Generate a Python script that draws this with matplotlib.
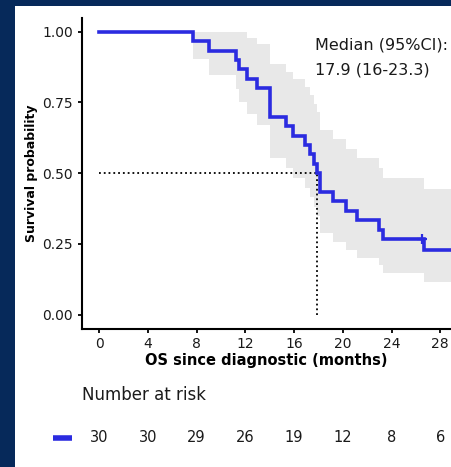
import matplotlib
matplotlib.use("Agg")
import matplotlib.pyplot as plt
from matplotlib.patches import Rectangle
from matplotlib.lines import Line2D
from matplotlib import transforms

# Kaplan-Meier estimate (step times in months) with 95% confidence band
times = [0, 7.7, 9.0, 11.2, 11.5, 12.1, 13.0, 14.0, 15.3, 15.9, 16.9, 17.3,
         17.6, 17.9, 18.1, 19.2, 20.3, 21.2, 23.0, 23.3, 26.7, 30.0]
surv = [1.0, 0.967, 0.933, 0.900, 0.867, 0.833, 0.800, 0.700, 0.667, 0.633,
        0.600, 0.567, 0.533, 0.500, 0.433, 0.400, 0.367, 0.333, 0.300, 0.267,
        0.229, 0.229]
upper = [1.0, 1.0, 1.0, 1.0, 0.997, 0.978, 0.957, 0.885, 0.859, 0.832,
         0.804, 0.775, 0.745, 0.715, 0.652, 0.620, 0.587, 0.553, 0.518, 0.483,
         0.445, 0.445]
lower = [1.0, 0.904, 0.848, 0.799, 0.753, 0.710, 0.669, 0.554, 0.518, 0.482,
         0.448, 0.414, 0.382, 0.350, 0.288, 0.258, 0.229, 0.201, 0.174, 0.147,
         0.117, 0.117]

# censored observations
censor_times = [26.5]
censor_surv = [0.267]

# median survival and its 95% CI
median_time = 17.9
median_ci = (16, 23.3)

# number-at-risk table
risk_times = [0, 4, 8, 12, 16, 20, 24, 28]
at_risk = [30, 30, 29, 26, 19, 12, 8, 6]

x_ticks = [0, 4, 8, 12, 16, 20, 24, 28]
y_ticks = [0.00, 0.25, 0.50, 0.75, 1.00]

line_color = "#2b2be0"
band_color = "#e8e8e8"
navy = "#06295a"
text_color = "#1a1a1a"

plt.rcParams["font.family"] = ["DejaVu Sans"]

W, H = 451, 467
fig = plt.figure(figsize=(W / 100, H / 100), dpi=100, facecolor=navy)

# white panel inside the navy frame
fig.patches.append(Rectangle((15 / W, 0), 1 - 15 / W, 1 - 6 / H,
                             transform=fig.transFigure, facecolor="white",
                             edgecolor="none", zorder=-10))

ax = fig.add_axes([81.5 / W, 1 - 328.8 / H, 1 - 81.5 / W, 311.3 / H])
ax.set_zorder(1)
ax.set_facecolor("none")

ax.fill_between(times, lower, upper, step="post", color=band_color,
                linewidth=0, zorder=1)
ax.step(times, surv, where="post", color=line_color, linewidth=2.6,
        solid_joinstyle="miter", zorder=3)
ax.plot(censor_times, censor_surv, linestyle="none", marker="+",
        markersize=7, markeredgewidth=1.6, color=line_color, zorder=4)

# median survival guides
ax.plot([0, median_time], [0.5, 0.5], color="black", linestyle=":",
        linewidth=1.3, zorder=2)
ax.plot([median_time, median_time], [0, 0.5], color="black", linestyle=":",
        linewidth=1.3, zorder=2)

ax.text(17.73, 0.936, "Median (95%CI):", fontsize=11.5, color=text_color,
        ha="left", va="baseline", zorder=5)
ax.text(17.73, 0.848,
        f"{median_time} ({median_ci[0]}-{median_ci[1]})",
        fontsize=11.5, color=text_color, ha="left", va="baseline", zorder=5)

ax.set_xlim(-1.44, 28.88)
ax.set_ylim(-0.05, 1.05)
ax.set_xticks(x_ticks)
ax.set_xticklabels([str(v) for v in x_ticks])
ax.set_yticks(y_ticks)
ax.set_yticklabels([f"{v:.2f}" for v in y_ticks])

for side in ("top", "right"):
    ax.spines[side].set_visible(False)
for side in ("left", "bottom"):
    ax.spines[side].set_linewidth(1.5)
    ax.spines[side].set_color("black")

ax.tick_params(axis="both", length=3, width=1.3, color="black",
               labelsize=10, labelcolor=text_color, pad=3)

ax.set_xlabel("OS since diagnostic (months)", fontsize=10.5,
              fontweight="bold", color="black", labelpad=1.5)
ax.set_ylabel("Survival probability", fontsize=9, fontweight="bold",
              color="black", labelpad=3)

# number at risk table below the plot
fig.text(82 / W, 1 - 400 / H, "Number at risk", fontsize=12,
         color=text_color, ha="left", va="baseline")
risk_trans = transforms.blended_transform_factory(ax.transData,
                                                  fig.transFigure)
for t, n in zip(risk_times, at_risk):
    fig.text(t, 1 - 442 / H, str(n), transform=risk_trans, fontsize=10.5,
             color=text_color, ha="center", va="baseline")
fig.lines.append(Line2D([53 / W, 72 / W], [1 - 438 / H, 1 - 438 / H],
                        transform=fig.transFigure, color=line_color,
                        linewidth=4, solid_capstyle="butt"))

fig.savefig("out.png", dpi=100, facecolor=navy)
